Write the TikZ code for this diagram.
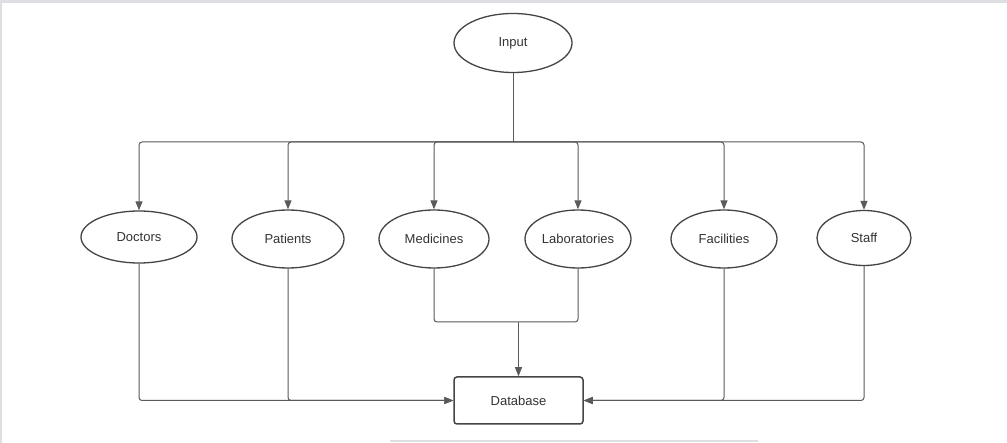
\documentclass[tikz,border=0pt]{standalone}
\usepackage{fontspec}
\setmainfont{Liberation Sans}
\usetikzlibrary{shapes.geometric,arrows.meta}
\definecolor{edgec}{HTML}{5A5A5A}
\definecolor{shapec}{HTML}{454545}
\definecolor{textc}{HTML}{333333}
\definecolor{frame}{HTML}{DDDFE2}
\tikzset{
  ell/.style={draw=shapec, line width=1.3pt, ellipse, inner sep=0pt, text=textc, font=\fontsize{13}{15}\selectfont},
  dbbox/.style={draw=shapec, line width=1.5pt, rectangle, rounded corners=3pt, inner sep=0pt, text=textc, font=\fontsize{13}{15}\selectfont},
  conn/.style={draw=edgec, line width=1pt, rounded corners=3pt},
  arr/.style={conn, -{Triangle[length=9pt,width=7pt]}},
}
\begin{document}
\begin{tikzpicture}[x=1pt,y=-1pt]
\useasboundingbox (0,0) rectangle (1007,443);
\fill[white] (0,0) rectangle (1007,443);
\fill[frame] (0,0) rectangle (1007,3);
\fill[frame] (0,0) rectangle (1.5,443);
\draw[frame, line width=2pt] (390,441) -- (758,441);

\node[ell, minimum width=118pt, minimum height=59pt] (in) at (513,43) {Input};
\node[ell, minimum width=116pt, minimum height=52pt] (doc) at (139,237) {Doctors};
\node[ell, minimum width=112pt, minimum height=58pt] (pat) at (288,239) {Patients};
\node[ell, minimum width=110pt, minimum height=58pt] (med) at (434,239) {Medicines};
\node[ell, minimum width=106pt, minimum height=58pt] (lab) at (578,239) {Laboratories};
\node[ell, minimum width=106pt, minimum height=58pt] (fac) at (724,239) {Facilities};
\node[ell, minimum width=94pt, minimum height=55pt] (sta) at (864,238) {Staff};
\node[dbbox, minimum width=129pt, minimum height=47pt] (db) at (518.5,400.5) {Database};

\coordinate (bus) at (513,142);
\coordinate (mj) at (518.5,322);

\draw[conn] (in.south) -- (bus);
\foreach \t in {doc,pat,med,lab,fac,sta}
  \draw[arr] (bus) -| (\t.north);

\draw[conn] (med.south) |- (mj);
\draw[conn] (lab.south) |- (mj);
\draw[arr] (mj) -- (db.north);

\draw[arr] (doc.south) |- (db.west);
\draw[arr] (pat.south) |- (db.west);
\draw[arr] (fac.south) |- (db.east);
\draw[arr] (sta.south) |- (db.east);
\end{tikzpicture}
\end{document}
